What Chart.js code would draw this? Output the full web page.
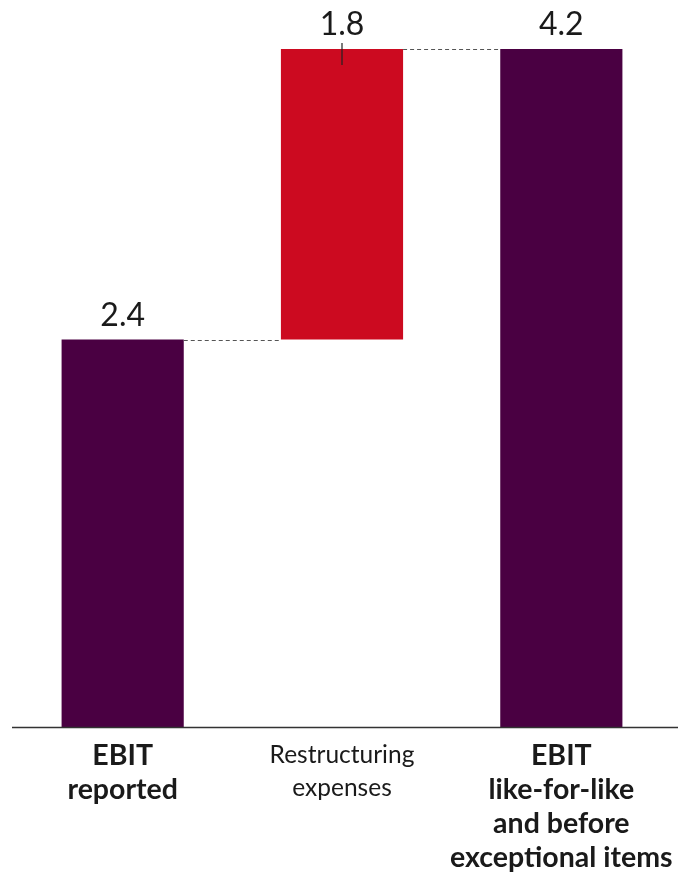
<!DOCTYPE html>
<html lang="en">
<head>
    <meta charset="UTF-8">
    <title>EBIT bridge</title>
    <script src="https://cdn.jsdelivr.net/npm/chart.js"></script>
    <style>
        html, body { margin: 0; padding: 0; background: #fff; }
        #wrap { width: 678px; height: 873px; position: relative; }
    </style>
</head>
<body>
    <div id="wrap"><canvas id="bridge-chart"></canvas></div>

    <script>
        // Bridge data
        const categories = [
            ['EBIT', 'reported'],
            ['Restructuring', 'expenses'],
            ['EBIT', 'like-for-like', 'and before', 'exceptional items']
        ];
        const values = [2.4, 1.8, 4.2];
        const kinds = ['total', 'delta', 'total'];
        const boldLabels = [true, false, true];

        const purple = '#4a0042';
        const red = '#cc0a20';

        // Totals stand on zero, deltas float on top of the running total
        let running = 0;
        const floating = values.map((v, i) => {
            if (kinds[i] === 'total') {
                running = v;
                return [0, v];
            }
            const from = running;
            running = from + v;
            return [from, running];
        });
        const colors = kinds.map(k => k === 'total' ? purple : red);

        // Value labels, connectors, the small marker on the delta bar and the baseline
        const bridgeDecor = {
            id: 'bridgeDecor',
            afterDatasetsDraw(chart) {
                const ctx = chart.ctx;
                const meta = chart.getDatasetMeta(0);
                const yScale = chart.scales.y;

                ctx.save();
                // dashed connectors between neighbouring bars
                ctx.strokeStyle = '#555';
                ctx.lineWidth = 1;
                ctx.setLineDash([4, 3]);
                for (let i = 0; i < meta.data.length - 1; i++) {
                    const a = meta.data[i];
                    const b = meta.data[i + 1];
                    const y = Math.round(yScale.getPixelForValue(floating[i][1])) + 0.5;
                    ctx.beginPath();
                    ctx.moveTo(a.x + a.width / 2, y);
                    ctx.lineTo(b.x - b.width / 2, y);
                    ctx.stroke();
                }
                ctx.setLineDash([]);

                // value labels
                ctx.fillStyle = '#1a1a1a';
                ctx.font = '32px Lato, "Open Sans", sans-serif';
                ctx.textAlign = 'center';
                ctx.textBaseline = 'alphabetic';
                meta.data.forEach((bar, i) => {
                    const top = yScale.getPixelForValue(floating[i][1]);
                    ctx.fillText(values[i].toFixed(1), bar.x, top - 14);

                    if (kinds[i] === 'delta') {
                        ctx.strokeStyle = '#222';
                        ctx.lineWidth = 1.2;
                        ctx.beginPath();
                        ctx.moveTo(bar.x, top - 6);
                        ctx.lineTo(bar.x, top + 16);
                        ctx.stroke();
                    }
                });

                // baseline across the full width
                const y0 = Math.round(yScale.getPixelForValue(0)) + 0.5;
                ctx.strokeStyle = '#333';
                ctx.lineWidth = 1.5;
                ctx.beginPath();
                ctx.moveTo(12, y0);
                ctx.lineTo(chart.width, y0);
                ctx.stroke();
                ctx.restore();
            }
        };

        new Chart(document.getElementById('bridge-chart'), {
            type: 'bar',
            data: {
                labels: categories,
                datasets: [{
                    data: floating,
                    backgroundColor: colors,
                    borderWidth: 0,
                    categoryPercentage: 1,
                    barPercentage: 0.557
                }]
            },
            options: {
                responsive: true,
                maintainAspectRatio: false,
                animation: false,
                layout: { padding: { top: 49, left: 13, right: 7, bottom: 0 } },
                plugins: {
                    legend: { display: false },
                    tooltip: { enabled: false }
                },
                scales: {
                    x: {
                        grid: { display: false, drawTicks: false },
                        border: { display: false },
                        afterFit: scale => {
                            // fixed label band; long labels may run into the side margin
                            scale.height = 146;
                            scale.paddingLeft = 0;
                            scale.paddingRight = 0;
                        },
                        ticks: {
                            color: '#1a1a1a',
                            padding: 12,
                            maxRotation: 0,
                            autoSkip: false,
                            font: ctx => ({
                                family: 'Lato, "Open Sans", sans-serif',
                                size: boldLabels[ctx.index] ? 28.5 : 24.5,
                                weight: boldLabels[ctx.index] ? 'bold' : 'normal',
                                lineHeight: boldLabels[ctx.index] ? '34px' : '33px'
                            })
                        }
                    },
                    y: {
                        display: false,
                        min: 0,
                        max: 4.2
                    }
                }
            },
            plugins: [bridgeDecor]
        });
    </script>
</body>
</html>
